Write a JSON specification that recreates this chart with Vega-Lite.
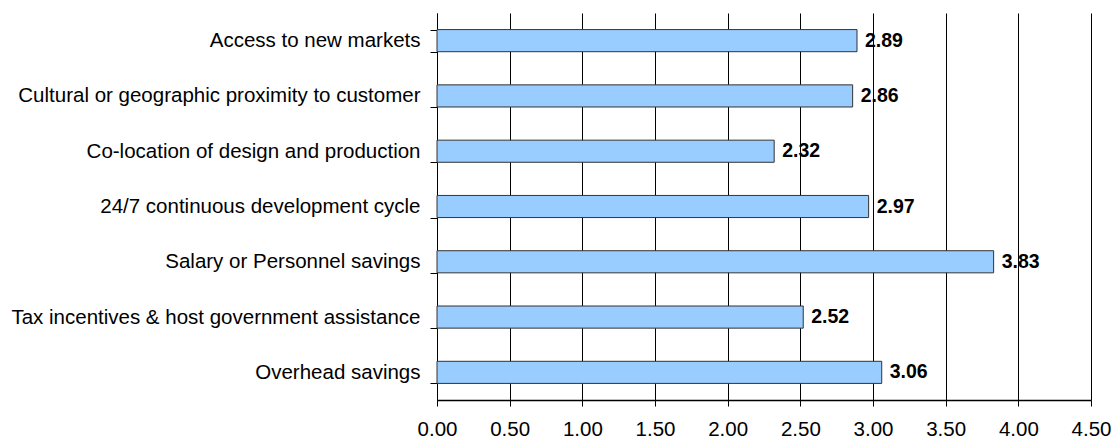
{
  "$schema": "https://vega.github.io/schema/vega-lite/v6.json",
  "autosize": "none",
  "width": 654,
  "height": 387,
  "padding": {"left": 437, "top": 13, "right": 24, "bottom": 41},
  "background": "white",
  "config": {
    "view": {"stroke": null},
    "font": "Liberation Sans"
  },
  "data": {
    "values": [
      {"factor": "Access to new markets", "score": 2.89},
      {"factor": "Cultural or geographic proximity to customer", "score": 2.86},
      {"factor": "Co-location of design and production", "score": 2.32},
      {"factor": "24/7 continuous development cycle", "score": 2.97},
      {"factor": "Salary or Personnel savings", "score": 3.83},
      {"factor": "Tax incentives & host government assistance", "score": 2.52},
      {"factor": "Overhead savings", "score": 3.06}
    ]
  },
  "encoding": {
    "y": {
      "field": "factor",
      "type": "nominal",
      "sort": null,
      "scale": {"paddingInner": 0.6, "paddingOuter": 0.3},
      "axis": {
        "title": null,
        "domainColor": "#000000",
        "domainWidth": 1,
        "tickColor": "#000000",
        "tickSize": 7,
        "tickBand": "extent",
        "labelPadding": 10,
        "labelFont": "Liberation Sans",
        "labelFontSize": 20.5,
        "labelColor": "#000000",
        "labelLimit": 500
      }
    },
    "x": {
      "field": "score",
      "type": "quantitative",
      "scale": {"domain": [0, 4.5], "nice": false},
      "axis": {
        "title": null,
        "values": [0, 0.5, 1, 1.5, 2, 2.5, 3, 3.5, 4, 4.5],
        "format": ".2f",
        "grid": true,
        "gridColor": "#000000",
        "gridWidth": 1,
        "domainColor": "#000000",
        "domainWidth": 1.5,
        "tickColor": "#000000",
        "tickSize": 6,
        "labelPadding": 13,
        "labelFont": "Liberation Sans",
        "labelFontSize": 20.5,
        "labelColor": "#000000",
        "labelFlush": false
      }
    }
  },
  "layer": [
    {
      "mark": {"type": "bar", "fill": "#99CCFF", "stroke": "#333333", "strokeWidth": 1}
    },
    {
      "mark": {"type": "text", "align": "left", "baseline": "middle", "dx": 8, "fontWeight": "bold", "fontSize": 19.5, "font": "Liberation Sans", "color": "#000000"},
      "encoding": {
        "text": {"field": "score", "type": "quantitative", "format": ".2f"}
      }
    }
  ]
}
